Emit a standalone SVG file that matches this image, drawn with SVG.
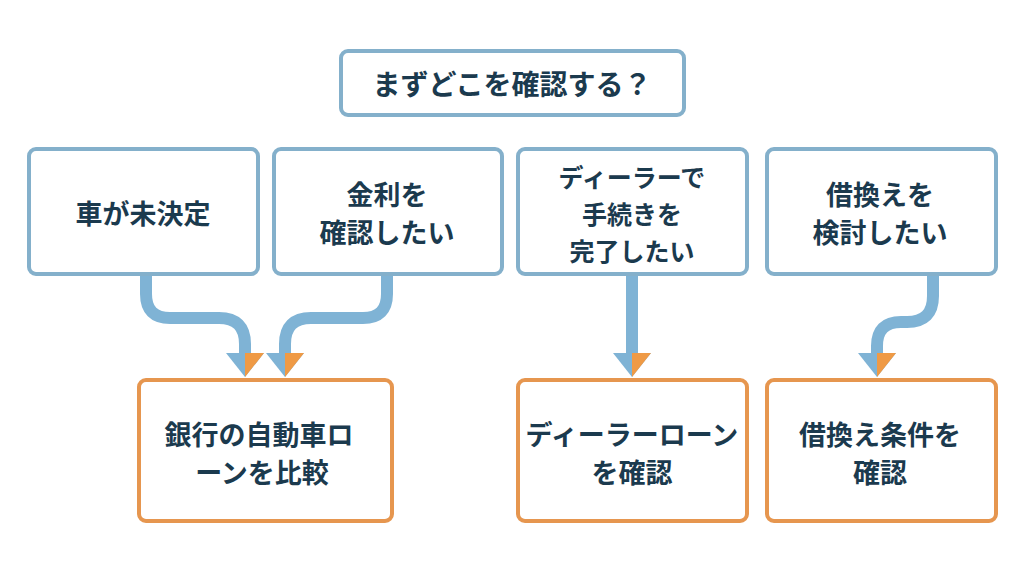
<svg xmlns="http://www.w3.org/2000/svg" width="1024" height="572" viewBox="0 0 1024 572">
<style>
.q{fill:#ffffff;stroke:#84b0cb;stroke-width:4}
.a{fill:#ffffff;stroke:#e6964f;stroke-width:4}
.t{font-family:"Noto Sans CJK JP","Noto Sans CJK SC",sans-serif;font-weight:700;font-size:27px;fill:#1b3a4e;text-anchor:middle;dominant-baseline:central}
.s{font-size:25px}
.c{fill:none;stroke:#7fb3d5;stroke-width:12}
.hb{fill:#7fb3d5}
.ho{fill:#ef9a45}
</style>
<rect width="1024" height="572" fill="#ffffff"/>
<g id="title">
<rect class="q" x="341" y="51" width="343" height="64" rx="7"/>
<text class="t" x="512" y="83" style="font-size:28px">まずどこを確認する？</text>
</g>
<g id="n1">
<rect class="q" x="29" y="149" width="229" height="125" rx="7"/>
<text class="t" x="143" y="212">車が未決定</text>
</g>
<g id="n2">
<rect class="q" x="274" y="149" width="228" height="125" rx="7"/>
<text class="t" x="387" y="193">金利を</text>
<text class="t" x="387" y="231">確認したい</text>
</g>
<g id="n3">
<rect class="q" x="518" y="149" width="229" height="125" rx="7"/>
<text class="t s" x="632" y="176">ディーラーで</text>
<text class="t s" x="632" y="213">手続きを</text>
<text class="t s" x="632" y="250">完了したい</text>
</g>
<g id="n4">
<rect class="q" x="767" y="149" width="229" height="125" rx="7"/>
<text class="t" x="880" y="193">借換えを</text>
<text class="t" x="880" y="231">検討したい</text>
</g>
<g id="n5">
<rect class="a" x="139" y="380" width="253" height="141" rx="7"/>
<text class="t" x="259" y="433">銀行の自動車ロ</text>
<text class="t" x="262" y="471">ーンを比較</text>
</g>
<g id="n6">
<rect class="a" x="518" y="380" width="229" height="141" rx="7"/>
<text class="t" x="632" y="433">ディーラーローン</text>
<text class="t" x="632" y="471">を確認</text>
</g>
<g id="n7">
<rect class="a" x="767" y="380" width="229" height="141" rx="7"/>
<text class="t" x="880" y="433">借換え条件を</text>
<text class="t" x="880" y="471">確認</text>
</g>
<g id="connectors">
<path class="c" d="M146 276 V294 Q146 318 170 318 H219 Q245 318 245 344 V356"/>
<path class="c" d="M387 276 V294 Q387 318 363 318 H311 Q285 318 285 344 V356"/>
<path class="c" d="M632 276 V356"/>
<path class="c" d="M933 276 V296 Q933 322 907 322 H901 Q877 322 877 346 V356"/>
<polygon class="hb" points="226,353 264,353 245,377"/>
<polygon class="ho" points="245,353 264,353 245,377"/>
<polygon class="hb" points="266,353 304,353 285,377"/>
<polygon class="ho" points="285,353 304,353 285,377"/>
<polygon class="hb" points="613,353 651,353 632,377"/>
<polygon class="ho" points="632,353 651,353 632,377"/>
<polygon class="hb" points="858,353 896,353 877,377"/>
<polygon class="ho" points="877,353 896,353 877,377"/>
</g>
</svg>
